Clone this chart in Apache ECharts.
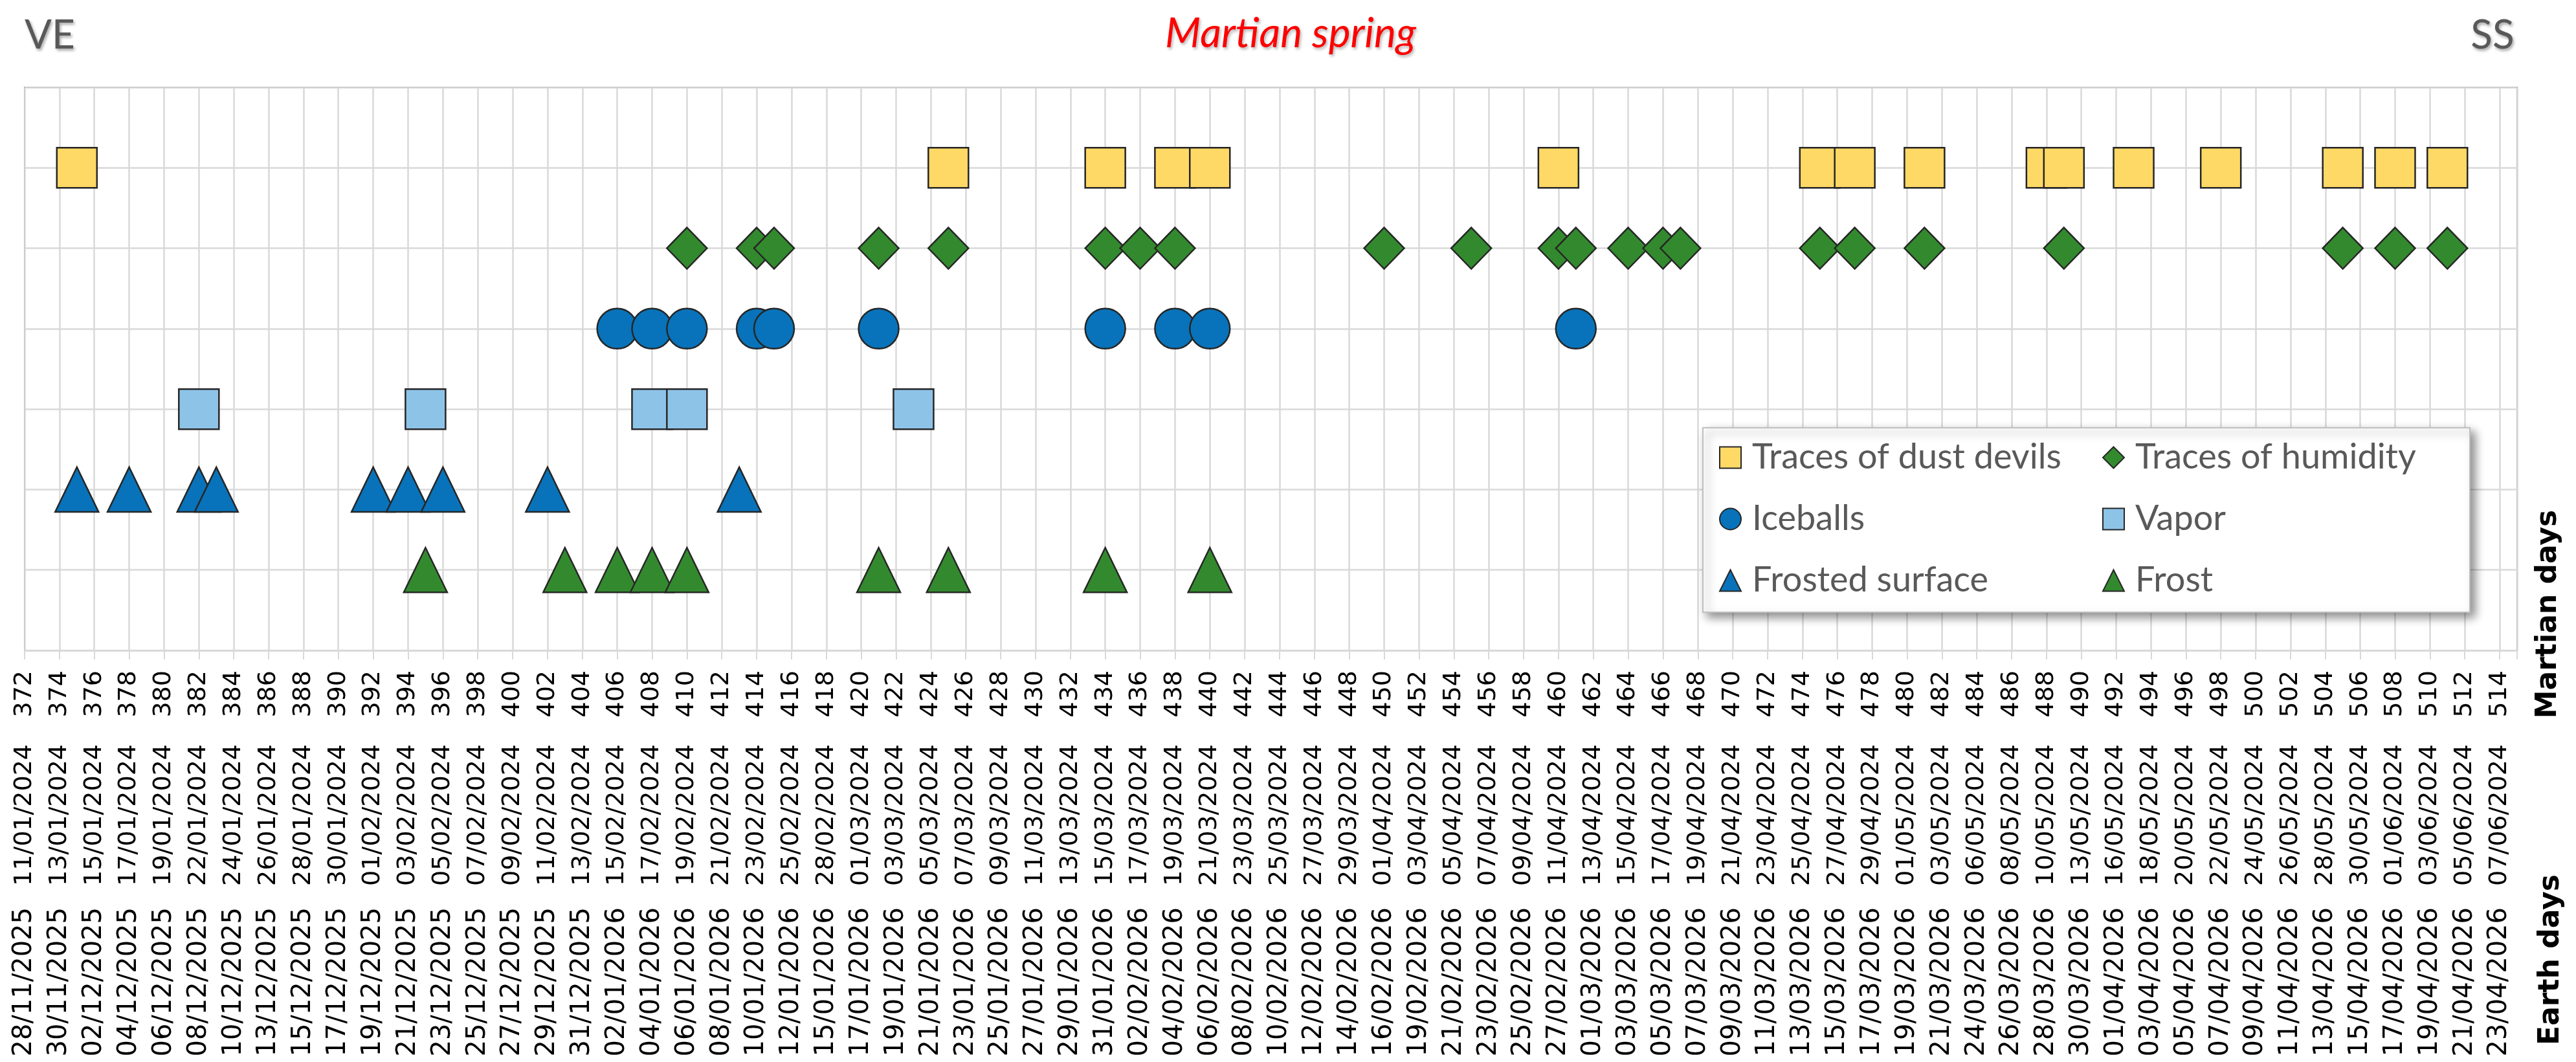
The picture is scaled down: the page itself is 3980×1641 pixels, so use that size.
<!DOCTYPE html>
<html>
<head>
<meta charset="utf-8">
<script src="https://cdn.jsdelivr.net/npm/echarts@6/dist/echarts.min.js"></script>
<style>
html,body{margin:0;padding:0;background:#ffffff;}
#chart{width:3980px;height:1641px;}
</style>
</head>
<body>
<div id="chart"></div>
<script>
// ---- Data (Martian sol of each observation) ----
const dustDevilDays = [375, 425, 434, 438, 440, 460, 475, 477, 481, 488, 489, 493, 498, 505, 508, 511];
const humidityDays = [410, 414, 415, 421, 425, 434, 436, 438, 450, 455, 460, 461, 464, 466, 467, 475, 477, 481, 489, 505, 508, 511];
const iceballDays = [406, 408, 410, 414, 415, 421, 434, 438, 440, 461];
const vaporDays = [382, 395, 408, 410, 423];
const frostedSurfaceDays = [375, 378, 382, 383, 392, 394, 396, 402, 413];
const frostDays = [395, 403, 406, 408, 410, 421, 425, 434, 440];

// row (y level) of each category
const rowLevels = {dust: 6, humidity: 5, iceballs: 4, vapor: 3, frosted: 2, frost: 1};

// ---- Tick labels ----
const martianTicks = [372,374,376,378,380,382,384,386,388,390,392,394,396,398,400,402,404,406,408,410,
  412,414,416,418,420,422,424,426,428,430,432,434,436,438,440,442,444,446,448,450,452,454,456,458,460,
  462,464,466,468,470,472,474,476,478,480,482,484,486,488,490,492,494,496,498,500,502,504,506,508,510,512,514];
const earthDates2024 = ["11/01/2024","13/01/2024","15/01/2024","17/01/2024","19/01/2024","22/01/2024","24/01/2024","26/01/2024","28/01/2024","30/01/2024",
  "01/02/2024","03/02/2024","05/02/2024","07/02/2024","09/02/2024","11/02/2024","13/02/2024","15/02/2024","17/02/2024","19/02/2024",
  "21/02/2024","23/02/2024","25/02/2024","28/02/2024","01/03/2024","03/03/2024","05/03/2024","07/03/2024","09/03/2024","11/03/2024",
  "13/03/2024","15/03/2024","17/03/2024","19/03/2024","21/03/2024","23/03/2024","25/03/2024","27/03/2024","29/03/2024","01/04/2024",
  "03/04/2024","05/04/2024","07/04/2024","09/04/2024","11/04/2024","13/04/2024","15/04/2024","17/04/2024","19/04/2024","21/04/2024",
  "23/04/2024","25/04/2024","27/04/2024","29/04/2024","01/05/2024","03/05/2024","06/05/2024","08/05/2024","10/05/2024","13/05/2024",
  "16/05/2024","18/05/2024","20/05/2024","22/05/2024","24/05/2024","26/05/2024","28/05/2024","30/05/2024","01/06/2024","03/06/2024",
  "05/06/2024","07/06/2024"];
const earthDates2026 = ["28/11/2025","30/11/2025","02/12/2025","04/12/2025","06/12/2025","08/12/2025","10/12/2025","13/12/2025","15/12/2025","17/12/2025",
  "19/12/2025","21/12/2025","23/12/2025","25/12/2025","27/12/2025","29/12/2025","31/12/2025","02/01/2026","04/01/2026","06/01/2026",
  "08/01/2026","10/01/2026","12/01/2026","15/01/2026","17/01/2026","19/01/2026","21/01/2026","23/01/2026","25/01/2026","27/01/2026",
  "29/01/2026","31/01/2026","02/02/2026","04/02/2026","06/02/2026","08/02/2026","10/02/2026","12/02/2026","14/02/2026","16/02/2026",
  "19/02/2026","21/02/2026","23/02/2026","25/02/2026","27/02/2026","01/03/2026","03/03/2026","05/03/2026","07/03/2026","09/03/2026",
  "11/03/2026","13/03/2026","15/03/2026","17/03/2026","19/03/2026","21/03/2026","24/03/2026","26/03/2026","28/03/2026","30/03/2026",
  "01/04/2026","03/04/2026","05/04/2026","07/04/2026","09/04/2026","11/04/2026","13/04/2026","15/04/2026","17/04/2026","19/04/2026",
  "21/04/2026","23/04/2026"];

// ---- Chart ----
const chart = echarts.init(document.getElementById('chart'), null, {renderer: 'canvas'});

const BORDER = '#262626';
const GRIDC = '#d9d9d9';
const labelFont = 'DejaVu Sans';

function mk(name, days, level, symbol, size, color) {
  return {
    name: name, type: 'scatter', xAxisIndex: 0, yAxisIndex: 0,
    symbol: symbol, symbolSize: size,
    itemStyle: {color: color, borderColor: BORDER, borderWidth: 2.5, opacity: 1},
    emphasis: {disabled: true},
    data: days.map(d => [d, level]),
    z: 2
  };
}

function tickIndex(v) { return martianTicks.indexOf(Math.round(v * 1000) / 1000); }

const baseX = {
  type: 'value', min: 372, max: 515, interval: 2, position: 'bottom',
  axisLine: {show: false}, axisTick: {show: false}, splitLine: {show: false}
};

const option = {
  backgroundColor: '#ffffff',
  animation: false,
  grid: {left: 38, right: 91, top: 135, bottom: 636, show: true, borderColor: '#808080', borderWidth: 2, backgroundColor: 'transparent'},
  xAxis: [
    Object.assign({}, baseX, {
      axisLine: {show: true, onZero: false, lineStyle: {color: GRIDC, width: 2.5}},
      axisTick: {show: true, length: 14, lineStyle: {color: GRIDC, width: 2}},
      splitLine: {show: true, lineStyle: {color: GRIDC, width: 2.5}},
      axisLabel: {rotate: 90, margin: 31, fontSize: 38, fontFamily: labelFont, color: '#000',
        formatter: v => { const i = tickIndex(v); return i < 0 ? '' : String(martianTicks[i]); }}
    }),
    Object.assign({}, baseX, {
      axisLabel: {rotate: 90, margin: 145, fontSize: 38, fontFamily: labelFont, color: '#000',
        formatter: v => { const i = tickIndex(v); return i < 0 ? '' : earthDates2024[i]; }}
    }),
    Object.assign({}, baseX, {
      axisLabel: {rotate: 90, margin: 397, fontSize: 40, fontFamily: labelFont, color: '#000',
        formatter: v => { const i = tickIndex(v); return i < 0 ? '' : earthDates2026[i]; }}
    })
  ],
  yAxis: {
    type: 'value', min: 0, max: 7, interval: 1,
    axisLabel: {show: false}, axisLine: {show: false}, axisTick: {show: false},
    splitLine: {show: true, lineStyle: {color: GRIDC, width: 2.5}}
  },
  legend: [
    {
      data: ['Traces of dust devils', 'Iceballs', 'Frosted surface'],
      orient: 'vertical', left: 2656, top: 677, padding: 0, itemGap: 35,
      itemWidth: 33, itemHeight: 33, selectedMode: false, z: 6,
      textStyle: {fontSize: 54, fontFamily: 'Lato', color: '#595959', lineHeight: 60, padding: [0, 0, 0, 12]}
    },
    {
      data: ['Traces of humidity', 'Vapor', 'Frost'],
      orient: 'vertical', left: 3248, top: 677, padding: 0, itemGap: 35,
      itemWidth: 33, itemHeight: 33, selectedMode: false, z: 6,
      textStyle: {fontSize: 54, fontFamily: 'Lato', color: '#595959', lineHeight: 60, padding: [0, 0, 0, 12]}
    }
  ],
  graphic: [
    {type: 'rect', z: 5, shape: {x: 2631, y: 661, width: 1185, height: 285},
      style: {fill: '#ffffff', stroke: '#bfbfbf', lineWidth: 2, shadowBlur: 14, shadowOffsetX: 7, shadowOffsetY: 7, shadowColor: 'rgba(0,0,0,0.45)'}},
    {type: 'text', z: 10, x: 77, y: 55,
      style: {text: 'VE', fontSize: 62, fontFamily: 'Lato', fill: '#595959', textAlign: 'center', textVerticalAlign: 'middle',
        textShadowColor: 'rgba(0,0,0,0.35)', textShadowBlur: 4, textShadowOffsetX: 2, textShadowOffsetY: 3}},
    {type: 'text', z: 10, x: 3851, y: 55,
      style: {text: 'SS', fontSize: 62, fontFamily: 'Lato', fill: '#595959', textAlign: 'center', textVerticalAlign: 'middle',
        textShadowColor: 'rgba(0,0,0,0.35)', textShadowBlur: 4, textShadowOffsetX: 2, textShadowOffsetY: 3}},
    {type: 'text', z: 10, x: 1994, y: 52,
      style: {text: 'Martian spring', fontSize: 64, fontStyle: 'italic', fontFamily: 'Lato', fill: '#ff0000', textAlign: 'center', textVerticalAlign: 'middle',
        textShadowColor: 'rgba(0,0,0,0.3)', textShadowBlur: 4, textShadowOffsetX: 2, textShadowOffsetY: 3}},
    {type: 'text', z: 10, x: 3938, y: 949, rotation: Math.PI / 2,
      style: {text: 'Martian days', fontSize: 44, fontWeight: 'bold', fontFamily: labelFont, fill: '#000', textAlign: 'center', textVerticalAlign: 'middle'}},
    {type: 'text', z: 10, x: 3942, y: 1483, rotation: Math.PI / 2,
      style: {text: 'Earth days', fontSize: 44, fontWeight: 'bold', fontFamily: labelFont, fill: '#000', textAlign: 'center', textVerticalAlign: 'middle'}}
  ],
  series: [
    mk('Traces of dust devils', dustDevilDays, rowLevels.dust, 'rect', [62, 62], '#FFD966'),
    mk('Traces of humidity', humidityDays, rowLevels.humidity, 'diamond', [62, 64], '#338A2E'),
    mk('Iceballs', iceballDays, rowLevels.iceballs, 'circle', 62, '#0873BA'),
    mk('Vapor', vaporDays, rowLevels.vapor, 'rect', [62, 62], '#8EC3E8'),
    mk('Frosted surface', frostedSurfaceDays, rowLevels.frosted, 'triangle', [67, 69], '#0873BA'),
    mk('Frost', frostDays, rowLevels.frost, 'triangle', [67, 69], '#338A2E')
  ]
};

chart.setOption(option);
</script>
</body>
</html>
